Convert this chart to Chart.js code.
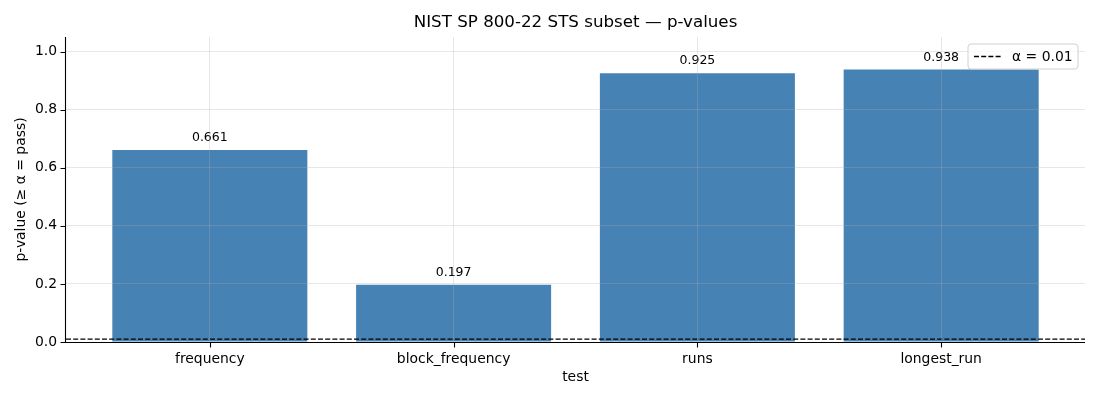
<!DOCTYPE html>
<html><head><meta charset="utf-8">
<script src="https://cdn.jsdelivr.net/npm/chart.js@4"></script>
<style>html,body{margin:0;padding:0;background:#fff;}</style>
</head><body>
<canvas id="c" width="1100" height="400"></canvas>
<script>
const categories = ["frequency", "block_frequency", "runs", "longest_run"];
const pValues = [0.661, 0.197, 0.925, 0.938];
const alphaLevel = 0.01;
const yTicks = [0.0, 0.2, 0.4, 0.6, 0.8, 1.0];
const titleText = "NIST SP 800-22 STS subset — p-values";
const xLabel = "test";
const yLabel = "p-value (≥ α = pass)";
const legendLabel = "α = 0.01";

const FONT = "'DejaVu Sans', sans-serif";
const XMIN = -0.59, XMAX = 3.59;
const gridColor = "rgba(176,176,176,0.3)";

const extras = {
  id: "extras",
  afterDatasetsDraw(chart) {
    const ctx = chart.ctx;
    const meta = chart.getDatasetMeta(1);
    ctx.save();
    ctx.font = "12.5px " + FONT;
    ctx.fillStyle = "#000";
    ctx.textAlign = "center";
    ctx.textBaseline = "alphabetic";
    meta.data.forEach((el, i) => {
      ctx.fillText(pValues[i].toFixed(3), el.x, el.y - 9);
    });
    ctx.restore();
  },
  afterDraw(chart) {
    const ctx = chart.ctx, a = chart.chartArea;
    const xs = chart.scales.x, ys = chart.scales.y;
    ctx.save();
    // axis spines and tick marks
    ctx.strokeStyle = "#000";
    ctx.lineWidth = 1.1;
    ctx.beginPath();
    ctx.moveTo(Math.round(a.left) - 0.5, a.top);
    ctx.lineTo(Math.round(a.left) - 0.5, Math.round(a.bottom) + 0.5);
    ctx.lineTo(a.right, Math.round(a.bottom) + 0.5);
    categories.forEach((c, i) => {
      const px = Math.round(xs.getPixelForValue(i)) + 0.5;
      ctx.moveTo(px, Math.round(a.bottom) + 0.5);
      ctx.lineTo(px, Math.round(a.bottom) + 5.5);
    });
    yTicks.forEach(v => {
      const py = Math.round(ys.getPixelForValue(v)) + 0.5;
      ctx.moveTo(Math.round(a.left) - 0.5, py);
      ctx.lineTo(Math.round(a.left) - 5.5, py);
    });
    ctx.stroke();

    ctx.fillStyle = "#000";
    ctx.textAlign = "center";
    ctx.textBaseline = "middle";
    ctx.font = "16.7px " + FONT;
    ctx.fillText(titleText, (a.left + a.right) / 2, 23);
    ctx.font = "13.9px " + FONT;
    ctx.fillText(xLabel, (a.left + a.right) / 2, 377);
    ctx.save();
    ctx.translate(21, (a.top + a.bottom) / 2);
    ctx.rotate(-Math.PI / 2);
    ctx.fillText(yLabel, 0, 0);
    ctx.restore();
    // legend
    const bx = 968, by = 44, bw = 110, bh = 25, r = 3;
    ctx.beginPath();
    ctx.moveTo(bx + r, by);
    ctx.arcTo(bx + bw, by, bx + bw, by + bh, r);
    ctx.arcTo(bx + bw, by + bh, bx, by + bh, r);
    ctx.arcTo(bx, by + bh, bx, by, r);
    ctx.arcTo(bx, by, bx + bw, by, r);
    ctx.closePath();
    ctx.fillStyle = "rgba(255,255,255,0.8)";
    ctx.fill();
    ctx.strokeStyle = "#d0d0d0";
    ctx.lineWidth = 1;
    ctx.stroke();
    ctx.beginPath();
    ctx.setLineDash([5, 2.2]);
    ctx.strokeStyle = "#000";
    ctx.lineWidth = 1.3;
    ctx.moveTo(974, 56.5);
    ctx.lineTo(1001, 56.5);
    ctx.stroke();
    ctx.setLineDash([]);
    ctx.fillStyle = "#000";
    ctx.textAlign = "left";
    ctx.font = "13.9px " + FONT;
    ctx.fillText(legendLabel, 1012, 57);
    ctx.restore();
  }
};

new Chart(document.getElementById("c"), {
  data: {
    datasets: [
      {
        type: "line",
        order: 0,
        data: [{x: XMIN, y: alphaLevel}, {x: XMAX, y: alphaLevel}],
        borderColor: "#000",
        borderWidth: 1.3,
        borderDash: [5, 2.2],
        pointRadius: 0,
        fill: false
      },
      {
        type: "bar",
        order: 1,
        data: pValues.map((v, i) => ({x: i, y: v})),
        backgroundColor: "#4682b4",
        borderWidth: 0,
        categoryPercentage: 1.0,
        barPercentage: 0.8
      }
    ]
  },
  options: {
    responsive: false,
    devicePixelRatio: 1,
    animation: false,
    layout: {padding: {top: 37, right: 15, left: 0, bottom: 0}},
    plugins: {legend: {display: false}, title: {display: false}, tooltip: {enabled: false}},
    scales: {
      x: {
        type: "linear",
        position: "bottom",
        min: XMIN, max: XMAX,
        offset: false,
        afterBuildTicks: s => { s.ticks = categories.map((c, i) => ({value: i})); },
        afterFit: s => { s.height = 58; },
        ticks: {
          callback: v => categories[v],
          color: "#000",
          font: {family: FONT, size: 13.9},
          padding: 4,
          maxRotation: 0,
          autoSkip: false
        },
        grid: {offset: false, color: gridColor, lineWidth: 1, tickLength: 5, tickColor: "rgba(0,0,0,0)", z: 1},
        border: {display: false}
      },
      y: {
        type: "linear",
        position: "left",
        min: 0, max: 1.05,
        afterBuildTicks: s => { s.ticks = yTicks.map(v => ({value: v})); },
        afterFit: s => { s.width = 66; },
        ticks: {
          callback: v => v.toFixed(1),
          color: "#000",
          font: {family: FONT, size: 13.9},
          padding: 4
        },
        grid: {offset: false, color: gridColor, lineWidth: 1, tickLength: 5, tickColor: "rgba(0,0,0,0)", z: 1},
        border: {display: false}
      }
    }
  },
  plugins: [extras]
});
</script>
</body></html>
